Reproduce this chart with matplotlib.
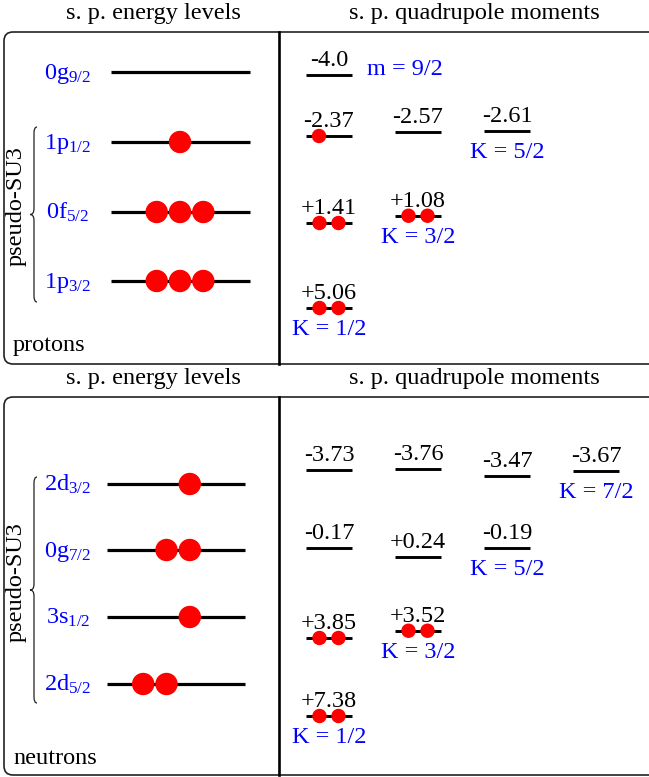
import matplotlib
matplotlib.use("Agg")
import matplotlib.pyplot as plt
from matplotlib.patches import Circle, FancyBboxPatch, PathPatch
from matplotlib.path import Path

plt.rcParams["font.family"] = ["Liberation Serif", "DejaVu Serif"]
plt.rcParams["mathtext.fontset"] = "custom"
plt.rcParams["mathtext.rm"] = "Liberation Serif"
plt.rcParams["mathtext.it"] = "Liberation Serif:italic"

BLUE = "#0000ff"
RED = "#ff0000"
FS = 17.5

# ---- single-particle levels (drawn top to bottom) ----
p_orbits = ["0g", "1p", "0f", "1p"]
p_j = ["9/2", "1/2", "5/2", "3/2"]
p_occ = [[], [0], [-1, 0, 1], [-1, 0, 1]]          # particle slots on each level

n_orbits = ["2d", "0g", "3s", "2d"]
n_j = ["3/2", "7/2", "1/2", "5/2"]
n_occ = [[1], [0, 1], [1], [-1, 0]]

# ---- single-particle quadrupole moments, one row per K ----
p_q = [["-4.0"], ["-2.37", "-2.57", "-2.61"], ["+1.41", "+1.08"], ["+5.06"]]
p_q_occ = [[0], [1, 0, 0], [2, 2], [2]]
p_k = ["m = 9/2", "K = 5/2", "K = 3/2", "K = 1/2"]

n_q = [["-3.73", "-3.76", "-3.47", "-3.67"], ["-0.17", "+0.24", "-0.19"],
       ["+3.85", "+3.52"], ["+7.38"]]
n_q_occ = [[0, 0, 0, 0], [0, 0, 0], [2, 2], [2]]
n_k = ["K = 7/2", "K = 5/2", "K = 3/2", "K = 1/2"]

fig = plt.figure(figsize=(6.49, 7.77), dpi=100)
ax = fig.add_axes([0, 0, 1, 1])
ax.set_xlim(0, 649)
ax.set_ylim(777, 0)
ax.axis("off")


def brace(x0, y_top, y_bot):
    ym = (y_top + y_bot) / 2
    c = 6
    verts = [(x0 + 3, y_top), (x0, y_top), (x0, y_top + c),
             (x0, ym - c), (x0, ym), (x0 - 4, ym),
             (x0, ym), (x0, ym + c),
             (x0, y_bot - c), (x0, y_bot), (x0 + 3, y_bot)]
    codes = [Path.MOVETO, Path.CURVE3, Path.CURVE3,
             Path.LINETO, Path.CURVE3, Path.CURVE3,
             Path.CURVE3, Path.CURVE3,
             Path.LINETO, Path.CURVE3, Path.CURVE3]
    ax.add_patch(PathPatch(Path(verts, codes), fill=False, lw=0.9, color="#222222"))


def panel(top, bot, title_y, level_y, lx0, lx1, slot_c, orbits, js, occ,
          brace_span, su3_y, name, name_y, q_rows, q_y, q_occ, k_labels):
    # frame
    ax.add_patch(FancyBboxPatch((4, top), 720, bot - top,
                                boxstyle="round,pad=0,rounding_size=9",
                                fc="none", ec="#222222", lw=1.2))
    ax.plot([279, 279], [top, bot], color="black", lw=1.9)
    ax.text(153, title_y, "s. p. energy levels", ha="center", va="baseline", fontsize=FS)
    ax.text(474, title_y, "s. p. quadrupole moments", ha="center", va="baseline", fontsize=FS)

    # energy levels with occupied slots
    for y, orb, j, slots in zip(level_y, orbits, js, occ):
        ax.plot([lx0, lx1], [y, y], color="black", lw=2.3, solid_capstyle="butt")
        ax.text(68, y + 7, orb + r"$_{\mathrm{" + j + "}}$", ha="center",
                va="baseline", fontsize=FS, color=BLUE)
        for s in slots:
            ax.add_patch(Circle((slot_c + 23.3 * s, y), 10.5, color=RED, zorder=3))

    brace(34, *brace_span)
    ax.text(16, su3_y, "pseudo-SU3", rotation=90, ha="center", va="center", fontsize=FS)
    ax.text(13, name_y, name, ha="left", va="baseline", fontsize=FS)

    # quadrupole moments: vertical offset inside a row follows the value
    for r, (row, occ_row, k) in enumerate(zip(q_rows, q_occ, k_labels)):
        q_ref = float(row[0])
        for c, (lab, n) in enumerate(zip(row, occ_row)):
            q = float(lab)
            xc = 329 + 89 * c
            y = q_y[r] + 22 * (q - q_ref)
            ax.plot([xc - 23, xc + 23], [y, y], color="black", lw=2.1, solid_capstyle="butt")
            ax.text(xc, y - 9, lab, ha="center", va="baseline", fontsize=FS)
            if n == 1:
                ax.add_patch(Circle((xc - 10, y), 6.5, color=RED, zorder=3))
            elif n == 2:
                for dx in (-9.5, 9.5):
                    ax.add_patch(Circle((xc + dx, y), 6.5, color=RED, zorder=3))
        last_x = 329 + 89 * (len(row) - 1)
        last_y = q_y[r] + 22 * (float(row[-1]) - q_ref)
        if k.startswith("m"):
            ax.text(367, last_y, k, ha="left", va="baseline", fontsize=FS, color=BLUE)
        else:
            ax.text(last_x, last_y + 27, k, ha="center", va="baseline", fontsize=FS, color=BLUE)


panel(32, 364, 19, [72, 142, 212, 281], 111, 250, 180, p_orbits, p_j, p_occ,
      (127, 302), 206, "protons", 351, p_q, [75, 136, 223, 308], p_q_occ, p_k)
panel(397, 775, 384, [484, 550, 617, 684], 107, 245, 166.5, n_orbits, n_j, n_occ,
      (477, 703), 582, "neutrons", 764, n_q, [470, 548, 638, 716], n_q_occ, n_k)

fig.savefig("out.png", dpi=100)
